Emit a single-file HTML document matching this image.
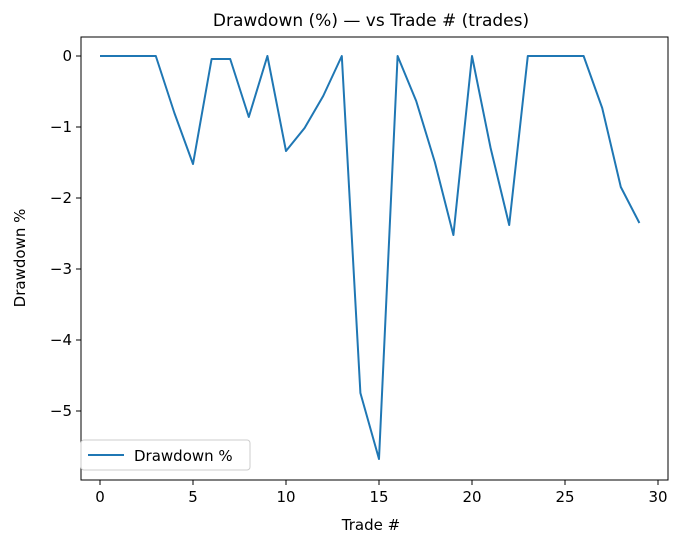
<!DOCTYPE html>
<html><head><meta charset="utf-8"><style>
body{margin:0;background:#fff}
svg{display:block;font-family:"DejaVu Sans","Liberation Sans",sans-serif}
</style></head><body>
<svg width="682" height="546" viewBox="0 0 682 546" xmlns="http://www.w3.org/2000/svg">
<rect width="682" height="546" fill="#fff"/>
<text x="371" y="26" font-size="17" text-anchor="middle" fill="#000">Drawdown (%) — vs Trade # (trades)</text>
<polyline fill="none" stroke="#1f77b4" stroke-width="2" stroke-linejoin="round" points="100,56 118.6,56 137.2,56 155.8,56 174.4,113 193,164 211.6,59 230.2,59 248.8,117 267.4,56 286,151 304.6,128 323.2,96 341.8,56 360.4,393 379,459 397.6,56 416.2,101 434.8,162 453.4,235 472,56 490.6,148 509.2,225 527.8,56 546.4,56 565,56 583.6,56 602.2,108 620.8,187 639.4,223"/>
<rect x="81" y="37" width="587" height="443" fill="none" stroke="#000" stroke-width="1"/>
<g stroke="#000" stroke-width="1">
<line x1="100" y1="480" x2="100" y2="485"/><line x1="193" y1="480" x2="193" y2="485"/><line x1="286" y1="480" x2="286" y2="485"/><line x1="379" y1="480" x2="379" y2="485"/><line x1="472" y1="480" x2="472" y2="485"/><line x1="565" y1="480" x2="565" y2="485"/><line x1="658" y1="480" x2="658" y2="485"/>
<line x1="76" y1="56" x2="81" y2="56"/><line x1="76" y1="127" x2="81" y2="127"/><line x1="76" y1="198" x2="81" y2="198"/><line x1="76" y1="269" x2="81" y2="269"/><line x1="76" y1="340" x2="81" y2="340"/><line x1="76" y1="411" x2="81" y2="411"/>
</g>
<g font-size="15" fill="#000" text-anchor="middle">
<text x="100" y="502">0</text><text x="193" y="502">5</text><text x="286" y="502">10</text><text x="379" y="502">15</text><text x="472" y="502">20</text><text x="565" y="502">25</text><text x="658" y="502">30</text>
<text x="371" y="530">Trade #</text>
</g>
<g font-size="15" fill="#000" text-anchor="end">
<text x="72" y="61">0</text><text x="72" y="132">−1</text><text x="72" y="203">−2</text><text x="72" y="274">−3</text><text x="72" y="345">−4</text><text x="72" y="416">−5</text>
</g>
<text transform="translate(25,258) rotate(-90)" font-size="15" text-anchor="middle">Drawdown %</text>
<rect x="81" y="440" width="169" height="30" rx="3" fill="#fff" stroke="#ccc"/>
<line x1="88" y1="455" x2="124" y2="455" stroke="#1f77b4" stroke-width="2"/>
<text x="134" y="461" font-size="15">Drawdown %</text>
</svg>
</body></html>
